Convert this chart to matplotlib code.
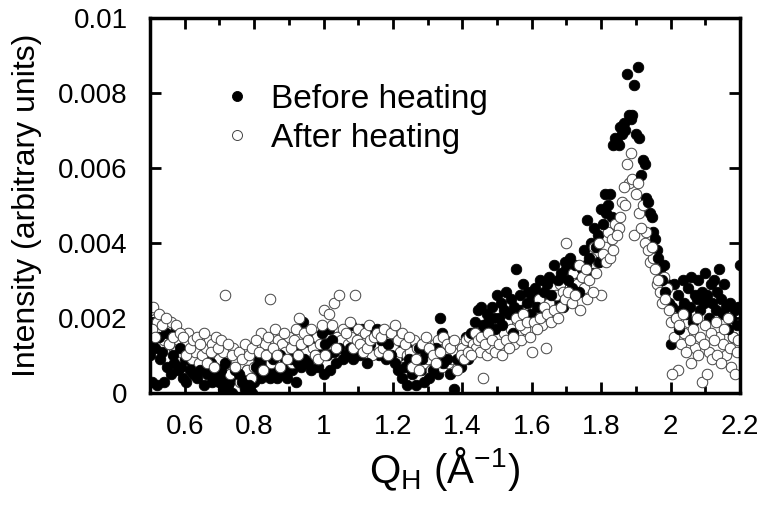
import numpy as np
import matplotlib
matplotlib.use("Agg")
import matplotlib.pyplot as plt
from matplotlib.ticker import MultipleLocator, FixedLocator, FixedFormatter


# -----------------------------
# Data (intensity in units of 1e-3, Q grid 0.500 .. 2.200 step 0.005)
# -----------------------------

Q_START = 0.50
Q_STEP = 0.005

BEFORE_HEATING = [
    1.0, 0.3, 1.4, 1.2, 0.2, 1.5, 0.9, 1.1, 0.3, 1.6,
    0.7, 1.3, 0.5, 1.0, 0.8, 1.7, 0.6, 1.2, 0.7, 0.4,
    0.9, 0.3, 1.0, 0.6, 0.8, 0.5, 0.9, 0.4, 1.1, 0.6,
    0.7, 0.2, 0.9, 0.5, 0.6, 0.8, 0.3, 0.7, 0.4, 0.5,
    0.3, 0.6, 0.1, 0.8, 0.4, 0.2, 0.5, 0.0, 0.3, 0.6,
    0.2, 0.5, 0.0, 0.3, 0.4, 0.1, 0.6, 0.2, 0.4, 0.0,
    0.3, 0.7, 0.5, 0.9, 0.4, 0.6, 0.8, 0.5, 0.7, 0.4,
    0.6, 0.9, 0.5, 0.4, 0.7, 1.0, 0.6, 0.5, 0.8, 0.4,
    0.7, 0.9, 0.6, 1.0, 0.3, 0.8, 1.1, 0.7, 1.9, 0.9,
    1.2, 0.8, 1.4, 0.6, 1.3, 1.0, 1.5, 0.7, 1.2, 1.6,
    0.5, 1.3, 1.0, 1.7, 0.6, 1.4, 1.1, 0.8, 1.5, 1.2,
    1.3, 0.9, 1.6, 1.0, 1.4, 1.2, 1.8, 0.9, 1.3, 1.1,
    1.5, 1.0, 1.7, 1.2, 1.4, 0.8, 1.6, 1.3, 1.1, 1.5,
    1.2, 1.7, 1.0, 1.4, 1.1, 1.6, 0.9, 1.3, 1.5, 1.0,
    1.4, 0.8, 1.2, 0.6, 1.0, 0.4, 1.1, 0.7, 0.2, 0.9,
    1.3, 0.5, 1.0, 0.2, 0.8, 1.2, 0.6, 0.9, 0.3, 1.1,
    0.7, 0.4, 1.0, 0.6, 0.9, 1.2, 0.5, 2.0, 1.6, 0.8,
    1.4, 0.9, 1.2, 0.5, 1.0, 0.1, 1.3, 0.9, 1.1, 0.7,
    1.3, 1.0, 1.5, 0.9, 1.2, 1.6, 1.1, 1.9, 1.4, 2.2,
    1.6, 2.3, 1.8, 1.4, 2.1, 1.9, 1.5, 2.3, 2.0, 1.7,
    2.6, 2.0, 2.4, 1.8, 2.2, 2.7, 1.9, 2.1, 2.5, 1.6,
    2.3, 3.3, 2.0, 2.6, 2.2, 2.9, 1.8, 2.4, 2.7, 2.1,
    2.5, 2.0, 2.8, 2.3, 2.6, 3.0, 2.2, 2.7, 2.4, 2.9,
    3.1, 2.6, 2.9, 3.4, 2.5, 3.0, 2.8, 3.2, 2.3, 3.5,
    3.3, 3.0, 3.6, 2.8, 3.2, 3.4, 3.0, 2.7, 3.1, 3.3,
    3.8, 3.4, 4.6, 3.6, 4.0, 3.2, 4.4, 3.9, 4.2, 3.5,
    4.9, 4.5, 5.3, 4.8, 5.0, 5.3, 4.7, 6.6, 6.8, 6.7,
    6.6, 7.1, 6.9, 7.2, 7.0, 8.5, 7.4, 7.3, 7.4, 8.2,
    6.9, 8.7, 6.8, 5.8, 6.2, 6.1, 5.2, 5.1, 4.8, 4.7,
    4.3, 4.1, 3.8, 3.6, 3.3, 3.0, 3.4, 2.7, 2.9, 2.4,
    1.3, 2.3, 2.9, 2.0, 2.6, 1.7, 2.2, 3.0, 2.4, 2.1,
    2.8, 2.3, 3.1, 1.9, 2.6, 2.5, 3.0, 2.2, 2.7, 2.4,
    3.2, 2.6, 2.0, 2.9, 2.4, 3.0, 2.2, 2.7, 3.3, 2.5,
    2.1, 2.9, 2.3, 1.7, 2.4, 2.0, 1.5, 2.2, 1.8, 2.3,
    3.4,
]

AFTER_HEATING = [
    2.2, 1.7, 2.3, 1.5, 1.9, 2.1, 1.6, 1.8, 1.4, 2.0,
    1.7, 1.3, 1.9, 1.5, 1.2, 1.8, 1.4, 1.6, 1.1, 1.5,
    1.3, 1.0, 1.6, 1.2, 0.9, 1.4, 1.1, 1.5, 0.8, 1.3,
    1.0, 1.6, 1.2, 0.8, 1.4, 1.1, 1.3, 0.7, 1.5, 1.2,
    0.9, 1.4, 1.1, 2.6, 0.8, 1.3, 0.5, 1.0, 1.2, 0.7,
    0.1, 1.1, 0.3, 0.9, 0.2, 1.3, 0.6, 1.0, 0.4, 1.2,
    0.7, 1.4, 0.9, 1.1, 1.6, 0.6, 1.3, 1.0, 1.5, 2.5,
    0.8, 1.2, 1.7, 1.0, 1.4, 0.7, 1.3, 1.6, 1.1, 0.9,
    1.5, 1.2, 0.8, 1.4, 1.7, 1.0, 2.0, 1.3, 0.9, 1.6,
    1.1, 1.4, 0.8, 1.7, 1.2, 1.0, 1.5, 0.9, 1.3, 1.8,
    2.2, 1.0, 1.6, 2.1, 1.3, 1.8, 2.4, 1.2, 1.5, 2.6,
    1.4, 1.7, 1.1, 1.6, 1.3, 1.9, 1.5, 1.2, 2.6, 1.4,
    1.7, 1.3, 1.5, 1.1, 1.6, 1.2, 1.8, 1.4, 1.0, 1.5,
    1.3, 1.6, 1.1, 1.5, 1.2, 1.7, 1.4, 1.0, 1.3, 1.6,
    1.2, 1.8, 0.9, 1.4, 1.1, 1.6, 0.7, 1.3, 1.0, 1.5,
    1.1, 0.7, 1.4, 0.9, 1.2, 0.6, 1.0, 1.3, 0.8, 1.5,
    0.9, 1.2, 0.6, 1.0, 1.3, 0.8, 1.4, 1.1, 0.7, 1.5,
    1.0, 1.3, 0.8, 1.2, 0.9, 1.4, 1.1, 0.6, 1.3, 1.0,
    1.2, 0.9, 1.4, 1.1, 1.5, 1.0, 1.3, 1.6, 1.2, 1.4,
    1.1, 1.5, 0.4, 1.3, 1.0, 1.6, 1.2, 1.4, 1.7, 1.1,
    1.5, 1.3, 1.8, 1.0, 1.6, 1.4, 1.9, 1.2, 1.7, 1.5,
    1.3, 2.0, 1.6, 1.8, 1.4, 2.1, 1.7, 1.9, 2.3, 1.5,
    1.1, 1.9, 2.2, 1.7, 2.5, 2.0, 1.8, 2.3, 1.2, 2.1,
    2.4, 1.9, 2.8, 2.2, 2.6, 2.0, 2.9, 2.3, 2.7, 2.5,
    4.0, 2.7, 3.0, 2.4, 3.2, 2.6, 2.9, 3.4, 2.2, 3.1,
    2.8, 3.3, 2.5, 3.0, 3.6, 2.7, 3.9, 3.2, 3.5, 4.0,
    2.6, 3.7, 3.9, 3.5, 4.3, 3.6, 4.1, 3.8, 4.5, 4.2,
    4.4, 4.7, 5.1, 5.5, 5.0, 6.1, 5.6, 6.4, 5.7, 4.2,
    5.3, 5.6, 4.8, 4.4, 5.0, 4.0, 4.3, 3.8, 3.5, 3.9,
    3.6, 3.3, 2.9, 3.0, 2.7, 2.4, 3.1, 2.5, 2.8, 2.2,
    1.9, 0.5, 1.5, 2.0, 0.6, 1.8, 1.3, 2.1, 1.6, 1.1,
    1.9, 1.4, 0.8, 1.7, 1.2, 2.0, 1.0, 1.5, 0.3, 1.3,
    1.8, 0.5, 1.1, 1.6, 0.9, 1.4, 1.9, 1.0, 1.5, 0.8,
    1.3, 1.7, 1.0, 2.0, 1.2, 0.7, 1.5, 0.5, 1.1, 1.4,
    2.3,
]

Y_TICKS = [0, 0.002, 0.004, 0.006, 0.008, 0.01]
Y_TICK_LABELS = ["0", "0.002", "0.004", "0.006", "0.008", "0.01"]
X_TICKS = [0.6, 0.8, 1.0, 1.2, 1.4, 1.6, 1.8, 2.0, 2.2]
X_TICK_LABELS = ["0.6", "0.8", "1", "1.2", "1.4", "1.6", "1.8", "2", "2.2"]


# -----------------------------
# Plot
# -----------------------------

plt.rcParams["font.family"] = ["Liberation Sans", "DejaVu Sans"]
plt.rcParams["mathtext.fontset"] = "custom"
plt.rcParams["mathtext.rm"] = "Liberation Sans"
plt.rcParams["mathtext.it"] = "Liberation Sans"

q_before = Q_START + Q_STEP * np.arange(len(BEFORE_HEATING))
q_after = Q_START + Q_STEP * np.arange(len(AFTER_HEATING))
i_before = np.array(BEFORE_HEATING) * 1e-3
i_after = np.array(AFTER_HEATING) * 1e-3

fig = plt.figure(figsize=(7.6, 5.05), dpi=100)
ax = fig.add_axes([0.1974, 0.2218, 0.7763, 0.7426])

filled_style = dict(linestyle="none", marker="o", markersize=7.6,
                    markerfacecolor="black", markeredgecolor="black",
                    markeredgewidth=0.6)
open_style = dict(linestyle="none", marker="o", markersize=7.6,
                  markerfacecolor="white", markeredgecolor="#444444",
                  markeredgewidth=0.7)

# even/odd points in separate layers so the two sets overlap each other
# in both directions, like in the original scan plot
h_before, = ax.plot(q_before[0::2], i_before[0::2], zorder=2, **filled_style)
h_after, = ax.plot(q_after[0::2], i_after[0::2], zorder=3, **open_style)
ax.plot(q_before[1::2], i_before[1::2], zorder=4, **filled_style)
ax.plot(q_after[1::2], i_after[1::2], zorder=5, **open_style)

ax.set_xlim(0.5, 2.2)
ax.set_ylim(0, 0.01)

ax.xaxis.set_major_locator(FixedLocator(X_TICKS))
ax.xaxis.set_major_formatter(FixedFormatter(X_TICK_LABELS))
ax.xaxis.set_minor_locator(MultipleLocator(0.1))
ax.yaxis.set_major_locator(FixedLocator(Y_TICKS))
ax.yaxis.set_major_formatter(FixedFormatter(Y_TICK_LABELS))

ax.tick_params(which="both", direction="in", top=True, right=True, width=2)
ax.tick_params(which="major", length=8, labelsize=20)
ax.tick_params(axis="x", which="major", pad=15)
ax.tick_params(axis="y", which="major", pad=16)
ax.tick_params(which="minor", length=5)
for spine in ax.spines.values():
    spine.set_linewidth(2.5)
    spine.set_zorder(10)

ax.set_xlabel(r"Q$_\mathregular{H}$ ($\mathregular{\AA^{-1}}$)", fontsize=29, labelpad=4)
ax.set_ylabel("Intensity (arbitrary units)", fontsize=23, labelpad=12)

ax.legend([h_before, h_after], ["Before heating", "After heating"],
          loc="upper left", bbox_to_anchor=(0.10, 0.86), frameon=False,
          fontsize=24, handletextpad=0.55, labelspacing=0.25,
          handlelength=0.9, markerscale=0.95, borderaxespad=0)

fig.savefig("out.png", dpi=100)
